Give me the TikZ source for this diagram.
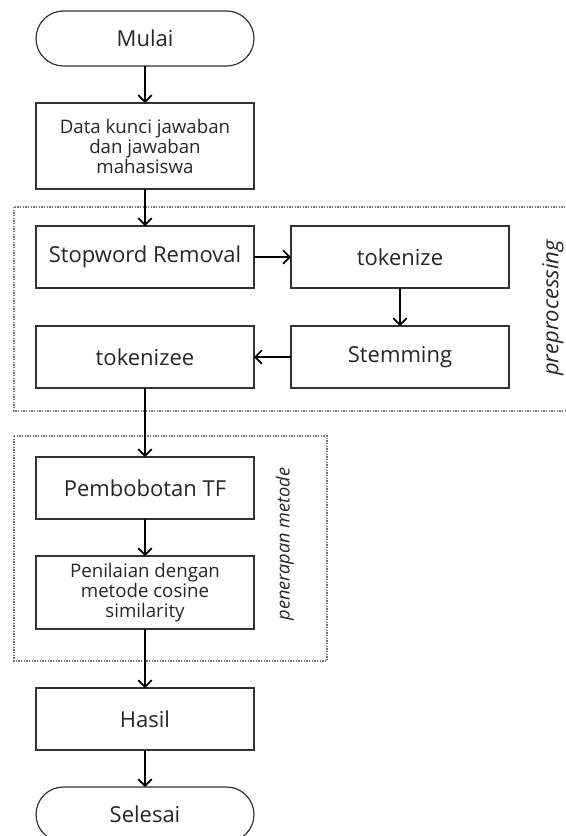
\documentclass[tikz,border=0pt]{standalone}
\usepackage{fontspec}
\setmainfont{Open Sans}
\usetikzlibrary{arrows.meta,positioning}

\begin{document}
\begin{tikzpicture}[x=0.75pt,y=-0.75pt,
  every node/.style={text=black!85,outer sep=0pt},
  block/.style={draw=black!80,line width=0.9pt,rectangle,minimum width=163.5pt,minimum height=46.5pt,font=\fontsize{16.5}{19}\selectfont,align=center},
  wideblock/.style={block,font=\fontsize{14}{15}\selectfont},
  term/.style={block,rounded corners=20.6pt,minimum height=41.25pt},
  group/.style={draw=black!55,line width=1pt,densely dotted},
  grouplabel/.style={rotate=90,font=\itshape},
  flow/.style={line width=1.5pt,-{Straight Barb[length=5pt,width=10pt,line width=1.3pt]}},
  node distance=27.75pt]

        \useasboundingbox (0,0) rectangle (566,836);

        % groups
        \draw[group] (14,207) rectangle (575,411);
        \draw[group] (14,436) rectangle (327,661);
        \node[grouplabel,font=\fontsize{16.5}{19}\selectfont\itshape] (pre) at (553,308) {preprocessing};
        \node[grouplabel,font=\fontsize{13.6}{16}\selectfont\itshape] (met) at (285,544) {penerapan metode};

        \node[term] (mulai) at (145,38.5) {Mulai};
        \node[wideblock,minimum height=64.5pt] (data) [below = of mulai] {Data kunci jawaban\\dan jawaban\\mahasiswa};
        \node[block] (stop) [below = of data] {Stopword Removal};
        \node[block] (tok) [right = of stop] {tokenize};
        \node[block] (stem) [below = 28.5pt of tok] {Stemming};
        \node[block] (toke) [left = of stem] {tokenizee};
        \node[block] (tf) [below = 51.75pt of toke] {Pembobotan TF};
        \node[wideblock,minimum height=54.75pt] (nilai) [below = of tf] {Penilaian dengan\\metode cosine\\similarity};
        \node[block] (hasil) [below = 44.25pt of nilai] {Hasil};
        \node[term] (selesai) [below = of hasil] {Selesai};

        \draw[flow] (mulai) -- (data);
        \draw[flow] (data) -- (stop);
        \draw[flow] (stop) -- (tok);
        \draw[flow] (tok) -- (stem);
        \draw[flow] (stem) -- (toke);
        \draw[flow] (toke) -- (tf);
        \draw[flow] (tf) -- (nilai);
        \draw[flow] (nilai) -- (hasil);
        \draw[flow] (hasil) -- (selesai);
      \end{tikzpicture}
\end{document}
